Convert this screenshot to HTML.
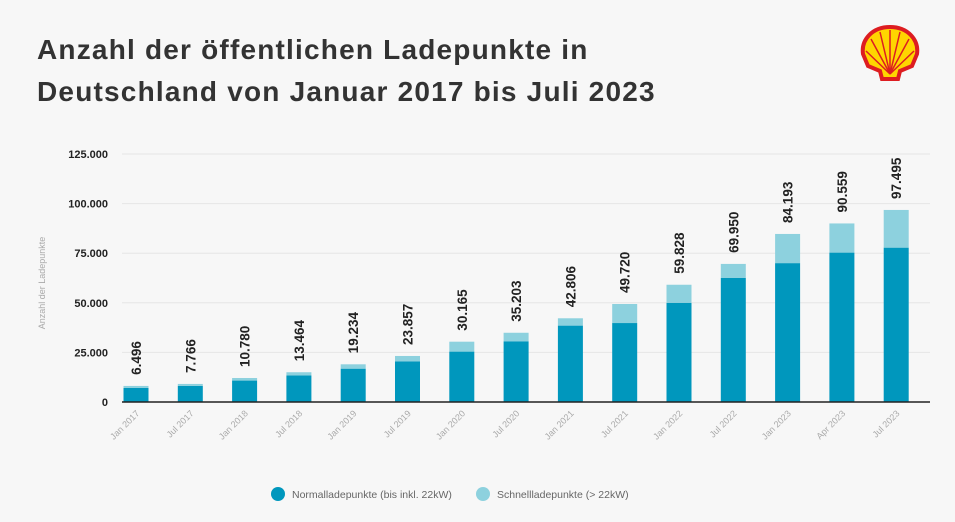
<!DOCTYPE html>
<html><head><meta charset="utf-8"><style>
body{margin:0;background:#f7f7f7;}
#wrap{position:relative;width:955px;height:522px;overflow:hidden;background:#f7f7f7;font-family:"Liberation Sans",sans-serif;}
h1{position:absolute;left:37px;top:29px;margin:0;font-size:28px;line-height:42px;color:#333;font-weight:bold;letter-spacing:1.2px;}
</style></head><body>
<div id="wrap">
<h1>Anzahl der öffentlichen Ladepunkte in<br>Deutschland von Januar 2017 bis Juli 2023</h1>
<svg style="position:absolute;left:858px;top:24px" width="64" height="60" viewBox="0 0 64 60">
<path d="M32 3 C14 3 3 16 5 30 L10 42 L22 47 L24 55 L40 55 L42 47 L54 42 L59 30 C61 16 50 3 32 3Z" fill="#ffd500" stroke="#dd1d21" stroke-width="4"/>
<g stroke="#dd1d21" stroke-width="1.5"><line x1="32" y1="50" x2="32" y2="6"/><line x1="32" y1="50" x2="22" y2="8"/><line x1="32" y1="50" x2="42" y2="8"/><line x1="32" y1="50" x2="13" y2="15"/><line x1="32" y1="50" x2="51" y2="15"/><line x1="32" y1="50" x2="8" y2="27"/><line x1="32" y1="50" x2="56" y2="27"/></g>
</svg>
<svg id="chart" width="955" height="522" style="position:absolute;left:0;top:0"></svg>
</div>
<script>
const categories=["Jan 2017","Jul 2017","Jan 2018","Jul 2018","Jan 2019","Jul 2019","Jan 2020","Jul 2020","Jan 2021","Jul 2021","Jan 2022","Jul 2022","Jan 2023","Apr 2023","Jul 2023"];
const normalValues=[7100,8100,10800,13400,16800,20500,25400,30600,38500,39800,50000,62500,70000,75300,77800];
const fastValues=[1000,1000,1300,1600,2200,2700,5000,4300,3700,9600,9100,7100,14700,14700,19000];
const totalLabels=["6.496","7.766","10.780","13.464","19.234","23.857","30.165","35.203","42.806","49.720","59.828","69.950","84.193","90.559","97.495"];
const yTicks=[0,25000,50000,75000,100000,125000];
const yTickLabels=["0","25.000","50.000","75.000","100.000","125.000"];
const svg=document.getElementById('chart');
const NS="http://www.w3.org/2000/svg";
const y0=402,yScale=248/125000,x0=136,step=54.3,bw=25;
const Y=v=>y0-v*yScale, X=i=>x0+i*step;
function mk(t,a){const e=document.createElementNS(NS,t);for(const k in a)e.setAttribute(k,a[k]);svg.appendChild(e);return e;}
yTicks.forEach((t,i)=>{
 if(t>0){const g=mk('line',{x1:122,x2:930,y1:Y(t),y2:Y(t),stroke:'#e6e6e6','stroke-width':1});
 
 }
 const l=mk('text',{x:108,y:Y(t)+4,'text-anchor':'end','font-size':11,'font-weight':'bold',fill:'#222'});
 l.textContent=yTickLabels[i];
 
 
});
const yt=mk('text',{x:45,y:283,'text-anchor':'middle','font-size':9,fill:'#aaa',transform:'rotate(-90 45 283)'});
yt.textContent="Anzahl der Ladepunkte";


categories.forEach((c,i)=>{
 const x=X(i),n=normalValues[i],f=fastValues[i];
 const b1=mk('rect',{x:x-bw/2,y:Y(n),width:bw,height:n*yScale,fill:'#0097bd'});
 
 
 const b2=mk('rect',{x:x-bw/2,y:Y(n+f),width:bw,height:f*yScale,fill:'#8dd1de'});
 
 
 const ty=Y(n+f)-11;
 const t=mk('text',{x:x+5,y:ty,'font-size':13.5,'font-weight':'bold',fill:'#222',transform:`rotate(-90 ${x+5} ${ty})`});
 t.textContent=totalLabels[i];
 
 
 const xl=mk('text',{x:x+4,y:414,'text-anchor':'end','font-size':9,fill:'#aaa',transform:`rotate(-45 ${x+4} 414)`});
 xl.textContent=c;
 
 
});
const ax=mk('line',{x1:122,x2:930,y1:y0,y2:y0,stroke:'#222','stroke-width':1.5});


[[278,'#0097bd','Normalladepunkte (bis inkl. 22kW)'],[483,'#8dd1de','Schnellladepunkte (> 22kW)']].forEach(([lx,col,txt])=>{
 const c=mk('circle',{cx:lx,cy:494,r:7,fill:col});
 
 
 const t=mk('text',{x:lx+14,y:498,'font-size':10.5,fill:'#666'});
 t.textContent=txt;
 
 
});
</script>
</body></html>
